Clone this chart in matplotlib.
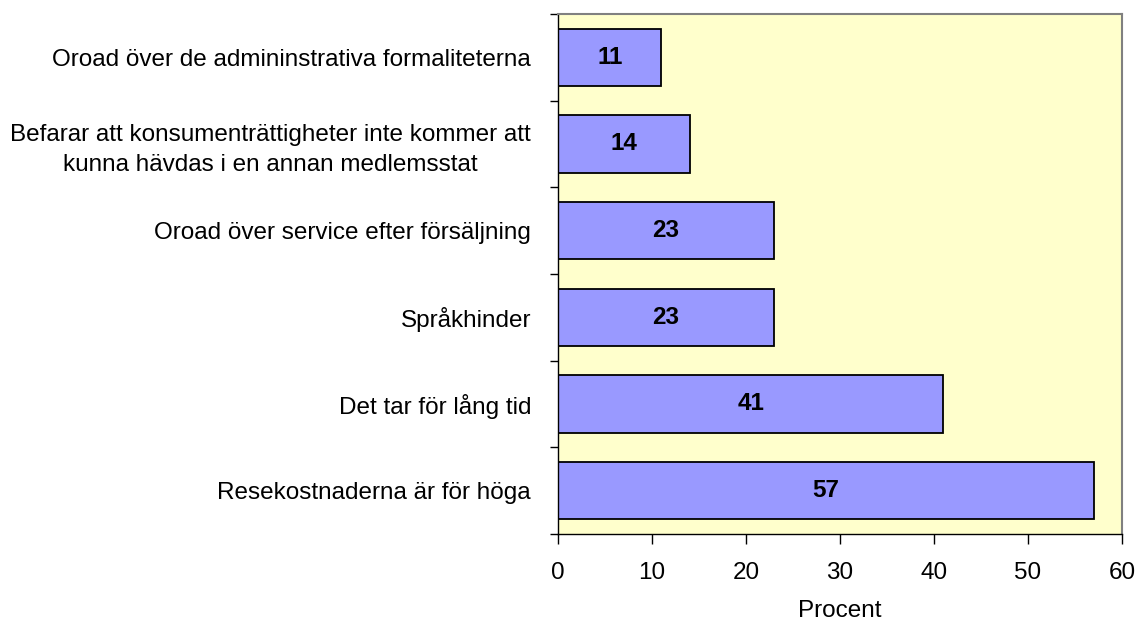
import numpy as np
import matplotlib
matplotlib.use("Agg")
import matplotlib.pyplot as plt
from matplotlib.ticker import FixedLocator

plt.rcParams['font.family'] = ['Liberation Sans', 'DejaVu Sans']

# data, top to bottom as shown
categories = [
    "Oroad över de admininstrativa formaliteterna",
    "Befarar att konsumenträttigheter inte kommer att\nkunna hävdas i en annan medlemsstat",
    "Oroad över service efter försäljning",
    "Språkhinder",
    "Det tar för lång tid",
    "Resekostnaderna är för höga",
]
values = [11, 14, 23, 23, 41, 57]
xticks = [0, 10, 20, 30, 40, 50, 60]

W, H = 1139, 624
L, R, T, B = 558, 1122, 14, 534

fig = plt.figure(figsize=(W / 100, H / 100), dpi=100)
ax = fig.add_axes([L / W, 1 - B / H, (R - L) / W, (B - T) / H])
ax.set_facecolor("#FFFFCC")

# reverse so first category ends up on top
y = np.arange(len(categories))[::-1]
ax.barh(y, values, height=0.66, color="#9999FF", edgecolor="black", linewidth=1.3, zorder=2)

for yi, v in zip(y, values):
    ax.text(v / 2, yi, str(v), ha="center", va="center", fontsize=17.5, fontweight="bold", zorder=3)

ax.set_xlim(0, 60)
ax.set_ylim(-0.5, len(categories) - 0.5)
ax.set_xticks(xticks)
ax.set_xticklabels([str(t) for t in xticks], fontsize=17.5)
ax.set_yticks(y)
ax.set_yticklabels(categories, fontsize=17.5, ha="right", multialignment="center", linespacing=1.43)
# ticks between categories, like the original
ax.yaxis.set_minor_locator(FixedLocator(np.arange(-0.5, len(categories), 1)))
ax.tick_params(axis="y", which="major", length=0, pad=19.4)
ax.tick_params(axis="y", which="minor", length=6, direction="out", width=1)
ax.tick_params(axis="x", which="major", length=7, direction="out", width=1, pad=13)

ax.set_xlabel("Procent", fontsize=17.5, labelpad=12)

for s in ["top", "right"]:
    ax.spines[s].set_color("#808080")
    ax.spines[s].set_linewidth(1.5)
for s in ["left", "bottom"]:
    ax.spines[s].set_color("black")
    ax.spines[s].set_linewidth(1)

fig.savefig("out.png", dpi=100)
